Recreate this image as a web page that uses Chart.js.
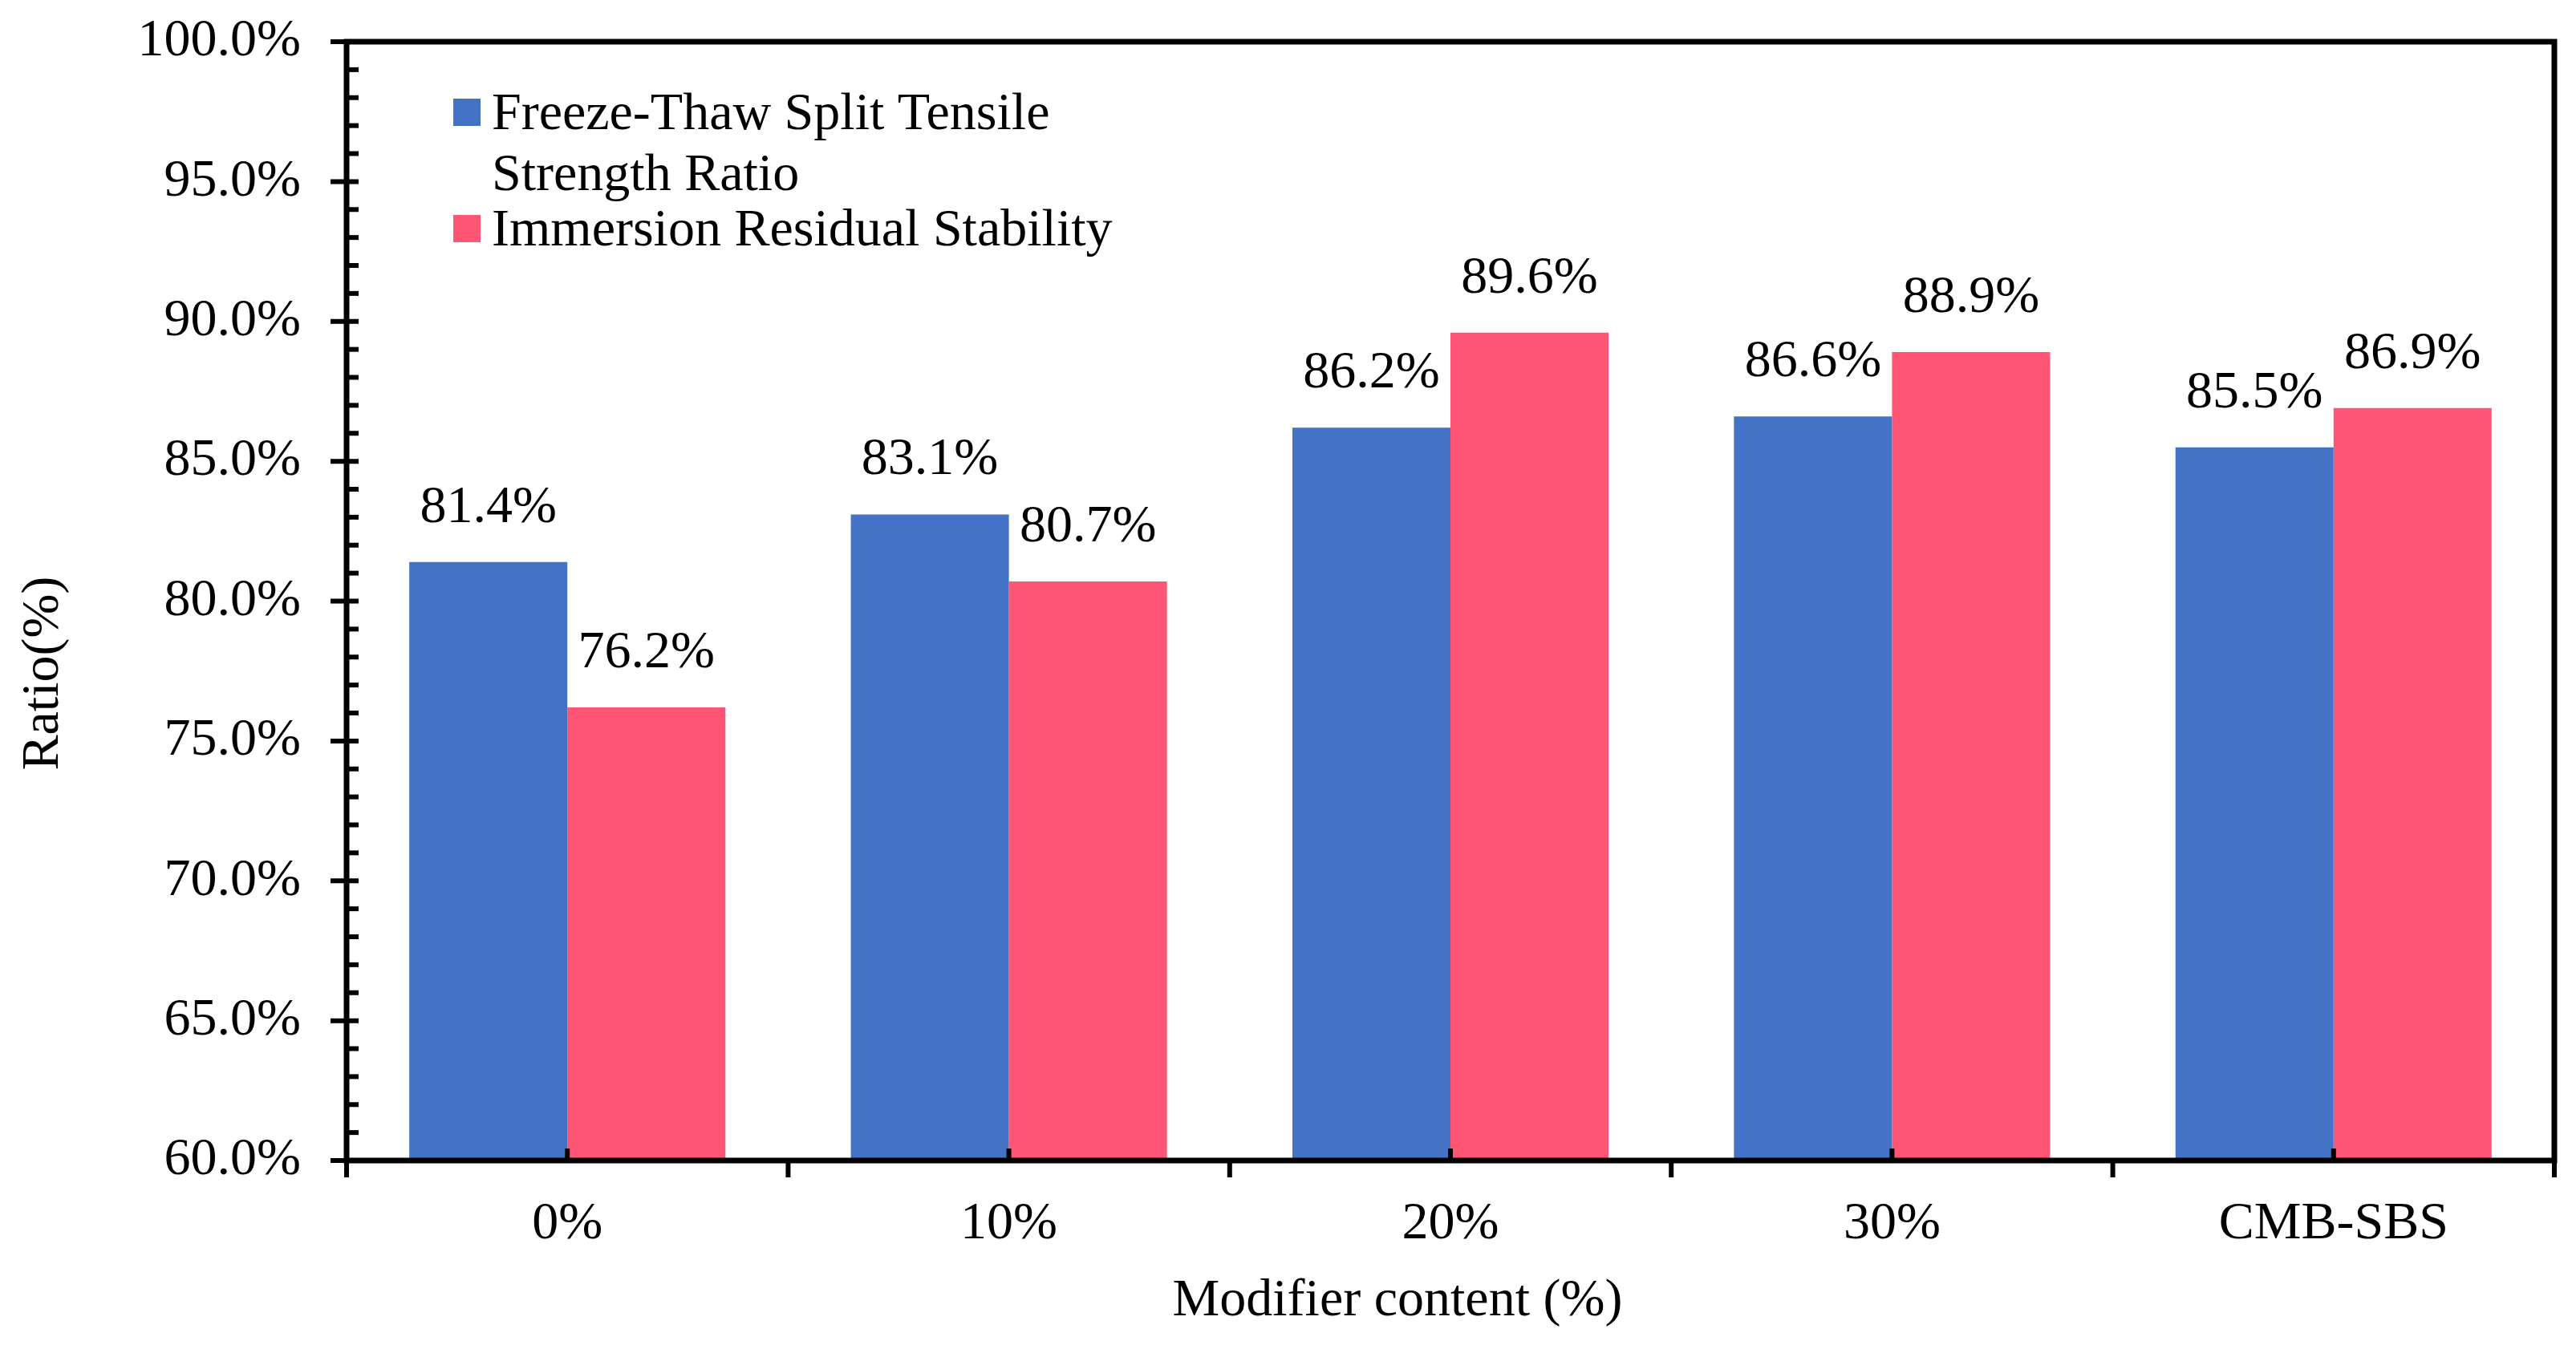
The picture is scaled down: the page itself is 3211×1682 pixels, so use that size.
<!DOCTYPE html>
<html>
<head>
<meta charset="utf-8">
<script src="https://cdn.jsdelivr.net/npm/chart.js@4.4.0/dist/chart.umd.min.js"></script>
<style>
  html, body { margin:0; padding:0; background:#fff; }
  canvas { display:block; }
</style>
</head>
<body>
<canvas id="ratioChart" width="3211" height="1682"></canvas>
<script>
// categories and series
const categories = ['0%', '10%', '20%', '30%', 'CMB-SBS'];
const freezeThaw = [81.4, 83.1, 86.2, 86.6, 85.5];
const immersion  = [76.2, 80.7, 89.6, 88.9, 86.9];
const seriesLabels = [['Freeze-Thaw Split Tensile', 'Strength Ratio'], ['Immersion Residual Stability']];
const seriesColors = ['#4472C4', '#FF5675'];
const xTitle = 'Modifier content (%)';
const yTitle = 'Ratio(%)';
const yMin = 60, yMax = 100, yStep = 5, yMinorStep = 1;

const FONT = 'Liberation Serif';
const FS = 66;
const AXIS_W = 7;
const TICK_W = 6;

Chart.defaults.font.family = FONT;
Chart.defaults.font.size = FS;
Chart.defaults.color = '#000';

// frame, ticks (major outside / minor inside), legend, value labels, axis titles
const decor = {
  id: 'decor',
  afterDatasetsDraw(chart){
    const ctx = chart.ctx, ca = chart.chartArea;
    const x = chart.scales.x, y = chart.scales.y;
    ctx.save();
    ctx.strokeStyle = '#000';
    ctx.fillStyle = '#000';
    ctx.font = FS + 'px "' + FONT + '"';

    // value labels above bars
    ctx.textAlign = 'center';
    ctx.textBaseline = 'alphabetic';
    chart.data.datasets.forEach((ds, di) => {
      chart.getDatasetMeta(di).data.forEach((bar, i) => {
        ctx.fillText(ds.data[i].toFixed(1) + '%', bar.x, bar.y - 50);
      });
    });

    // y ticks
    ctx.lineWidth = TICK_W;
    for(let v = yMin; v <= yMax; v += yMinorStep){
      const py = y.getPixelForValue(v);
      const major = v % yStep === 0;
      ctx.beginPath();
      ctx.moveTo(major ? ca.left - 20 : ca.left, py);
      ctx.lineTo(ca.left + 15, py);
      ctx.stroke();
    }
    // x ticks: category boundaries outward, centers inward
    const n = categories.length;
    const half = (x.getPixelForValue(1) - x.getPixelForValue(0)) / 2;
    for(let i = 0; i <= n; i++){
      const px = x.getPixelForValue(i) - half;
      ctx.beginPath();
      ctx.moveTo(px, ca.bottom);
      ctx.lineTo(px, ca.bottom + 21);
      ctx.stroke();
    }
    for(let i = 0; i < n; i++){
      const px = x.getPixelForValue(i);
      ctx.beginPath();
      ctx.moveTo(px, ca.bottom);
      ctx.lineTo(px, ca.bottom - 15);
      ctx.stroke();
    }

    // frame
    ctx.lineWidth = AXIS_W;
    ctx.strokeRect(ca.left, ca.top, ca.right - ca.left, ca.bottom - ca.top);

    // legend inside plot
    ctx.textAlign = 'left';
    ctx.textBaseline = 'alphabetic';
    const lx = ca.left + 133;
    const baselines = [[ca.top + 109, ca.top + 185], [ca.top + 254]];
    seriesLabels.forEach((lines, i) => {
      const b0 = baselines[i][0];
      ctx.fillStyle = seriesColors[i];
      ctx.fillRect(lx, b0 - 38, 34, 34);
      ctx.fillStyle = '#000';
      lines.forEach((t, k) => ctx.fillText(t, lx + 48, baselines[i][k]));
    });

    // axis titles (slightly off-centre in the original)
    ctx.textAlign = 'center';
    ctx.fillText(xTitle, (ca.left + ca.right) / 2 - 66, 1640);
    ctx.translate(72, (ca.top + ca.bottom) / 2 + 90);
    ctx.rotate(-Math.PI / 2);
    ctx.fillText(yTitle, 0, 0);
    ctx.restore();
  }
};

new Chart(document.getElementById('ratioChart'), {
  type: 'bar',
  data: {
    labels: categories,
    datasets: [
      { label: seriesLabels[0].join(' '), data: freezeThaw, backgroundColor: seriesColors[0] },
      { label: seriesLabels[1].join(' '), data: immersion, backgroundColor: seriesColors[1] }
    ]
  },
  options: {
    responsive: false,
    animation: false,
    devicePixelRatio: 1,
    layout: { padding: { left: 0, right: 27, top: 52, bottom: 0 } },
    datasets: { bar: { categoryPercentage: 0.716, barPercentage: 1.0, borderWidth: 0 } },
    plugins: { legend: { display: false }, tooltip: { enabled: false } },
    scales: {
      x: {
        grid: { display: false, drawTicks: false },
        border: { display: false },
        ticks: { padding: 40 },
        afterFit: s => { s.height = 235; s.paddingLeft = 0; s.paddingRight = 0; }
      },
      y: {
        min: yMin, max: yMax,
        grid: { display: false, drawTicks: false },
        border: { display: false },
        ticks: { stepSize: yStep, padding: 57, callback: v => v.toFixed(1) + '%' },
        afterFit: s => { s.width = 432; s.paddingTop = 0; s.paddingBottom = 0; }
      }
    }
  },
  plugins: [decor]
});
</script>
</body>
</html>
